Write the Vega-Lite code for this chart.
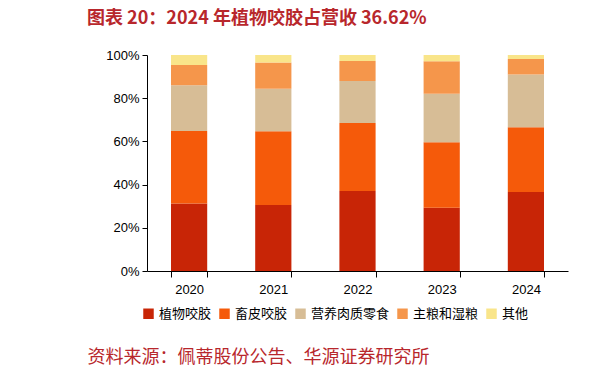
{
  "$schema": "https://vega.github.io/schema/vega-lite/v6.json",
  "autosize": {"type": "none"},
  "width": 421,
  "height": 216,
  "padding": {"left": 147, "top": 55, "right": 46, "bottom": 106},
  "background": "white",
  "title": {
    "text": "图表 20：2024 年植物咬胶占营收 36.62%",
    "anchor": "start",
    "frame": "group",
    "dx": -60,
    "offset": 21,
    "font": "Noto Sans CJK SC",
    "fontSize": 18,
    "fontWeight": "bold",
    "color": "#B8272C"
  },
  "data": {
    "values": [
      {"year": "2020", "cat": "植物咬胶", "k": 1, "v": 31.3},
      {"year": "2020", "cat": "畜皮咬胶", "k": 2, "v": 33.5},
      {"year": "2020", "cat": "营养肉质零食", "k": 3, "v": 21.2},
      {"year": "2020", "cat": "主粮和湿粮", "k": 4, "v": 9.4},
      {"year": "2020", "cat": "其他", "k": 5, "v": 4.6},
      {"year": "2021", "cat": "植物咬胶", "k": 1, "v": 30.6},
      {"year": "2021", "cat": "畜皮咬胶", "k": 2, "v": 34.1},
      {"year": "2021", "cat": "营养肉质零食", "k": 3, "v": 19.7},
      {"year": "2021", "cat": "主粮和湿粮", "k": 4, "v": 12.1},
      {"year": "2021", "cat": "其他", "k": 5, "v": 3.5},
      {"year": "2022", "cat": "植物咬胶", "k": 1, "v": 37.0},
      {"year": "2022", "cat": "畜皮咬胶", "k": 2, "v": 31.5},
      {"year": "2022", "cat": "营养肉质零食", "k": 3, "v": 19.5},
      {"year": "2022", "cat": "主粮和湿粮", "k": 4, "v": 9.2},
      {"year": "2022", "cat": "其他", "k": 5, "v": 2.8},
      {"year": "2023", "cat": "植物咬胶", "k": 1, "v": 29.3},
      {"year": "2023", "cat": "畜皮咬胶", "k": 2, "v": 30.3},
      {"year": "2023", "cat": "营养肉质零食", "k": 3, "v": 22.5},
      {"year": "2023", "cat": "主粮和湿粮", "k": 4, "v": 15.0},
      {"year": "2023", "cat": "其他", "k": 5, "v": 2.9},
      {"year": "2024", "cat": "植物咬胶", "k": 1, "v": 36.62},
      {"year": "2024", "cat": "畜皮咬胶", "k": 2, "v": 29.9},
      {"year": "2024", "cat": "营养肉质零食", "k": 3, "v": 24.4},
      {"year": "2024", "cat": "主粮和湿粮", "k": 4, "v": 7.2},
      {"year": "2024", "cat": "其他", "k": 5, "v": 1.88}
    ]
  },
  "mark": {"type": "bar"},
  "encoding": {
    "x": {
      "field": "year",
      "type": "ordinal",
      "scale": {"paddingInner": 0.57, "paddingOuter": 0.285},
      "axis": {
        "title": "资料来源：佩蒂股份公告、华源证券研究所",
        "titleAnchor": "start",
        "titleAlign": "left",
        "titleX": -60,
        "titleY": 86,
        "titleBaseline": "middle",
        "titleFont": "Noto Sans CJK SC",
        "titleFontSize": 18,
        "titleFontWeight": "normal",
        "titleColor": "#B8272C",
        "labelAngle": 0,
        "labelFont": "Liberation Sans",
        "labelFontSize": 13,
        "labelColor": "#000000",
        "labelPadding": 6,
        "tickBand": "extent",
        "tickSize": 6,
        "tickColor": "#000000",
        "domainColor": "#000000",
        "grid": false
      }
    },
    "y": {
      "field": "v",
      "type": "quantitative",
      "stack": "normalize",
      "axis": {
        "title": null,
        "format": ".0%",
        "values": [0, 0.2, 0.4, 0.6, 0.8, 1],
        "labelFont": "Liberation Sans",
        "labelFontSize": 13,
        "labelColor": "#000000",
        "labelPadding": 3,
        "tickSize": 5,
        "tickColor": "#000000",
        "domainColor": "#000000",
        "grid": false
      }
    },
    "color": {
      "field": "cat",
      "type": "nominal",
      "scale": {
        "domain": ["植物咬胶", "畜皮咬胶", "营养肉质零食", "主粮和湿粮", "其他"],
        "range": ["#C82506", "#F55A0A", "#D7BD96", "#F5964B", "#F9E58A"]
      },
      "legend": {
        "title": null,
        "orient": "none",
        "direction": "horizontal",
        "legendX": -5,
        "legendY": 252,
        "symbolType": "square",
        "symbolSize": 110,
        "symbolStrokeWidth": 0,
        "labelFont": "Noto Sans CJK SC",
        "labelFontSize": 13,
        "labelColor": "#000000",
        "labelOffset": 4,
        "columnPadding": 6
      }
    },
    "order": {"field": "k", "type": "quantitative"}
  },
  "config": {"view": {"stroke": null}}
}
